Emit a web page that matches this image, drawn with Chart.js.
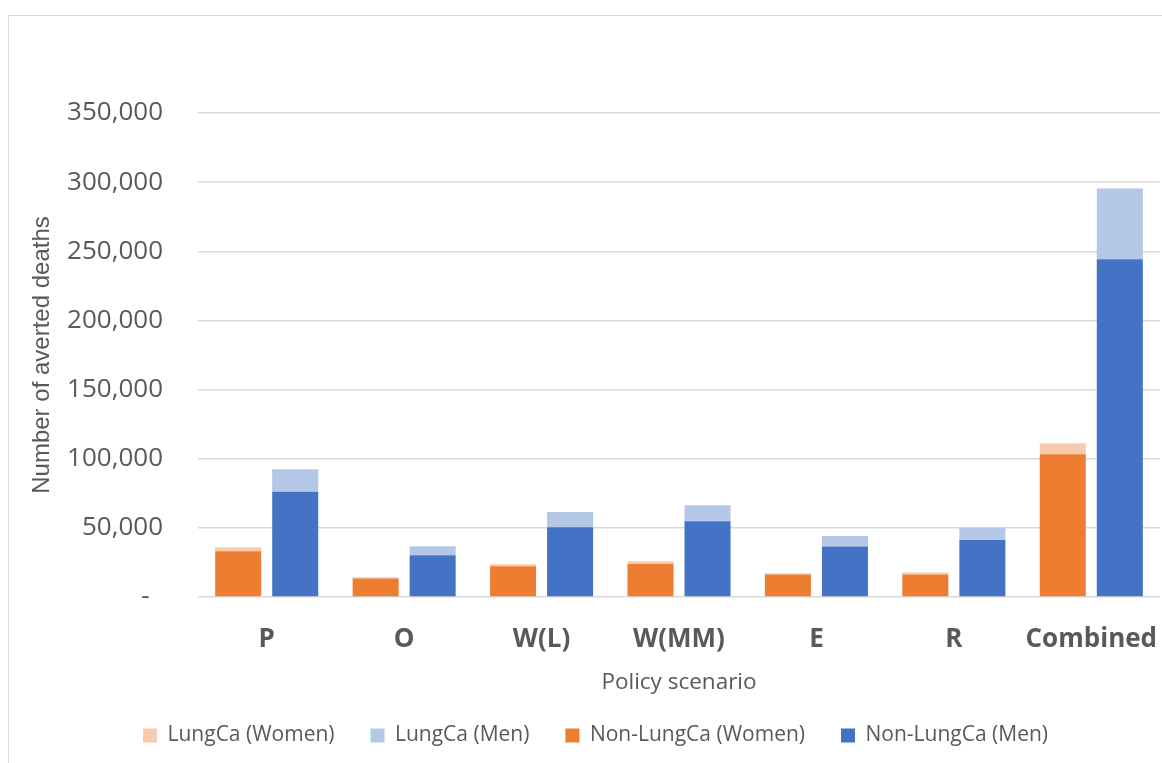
<!DOCTYPE html>
<html>
<head>
<meta charset="utf-8">
<script src="https://cdn.jsdelivr.net/npm/chart.js@4"></script>
<style>
  html, body { margin: 0; padding: 0; background: #fff; overflow: hidden; width: 1162px; height: 763px; }
  #frame { position: absolute; left: 8px; top: 15px; width: 1174px; height: 760px; border: 1px solid #d9d9d9; }
  #wrap { position: absolute; left: 0; top: 0; width: 1174px; height: 747px; }
</style>
</head>
<body>
<div id="frame"><div id="wrap"><canvas id="c" width="1174" height="747"></canvas></div></div>
<script>
// Policy scenarios on the x axis
const scenarios = ['P', 'O', 'W(L)', 'W(MM)', 'E', 'R', 'Combined'];

// Number of averted deaths per scenario
const nonLungCaWomen = [33100, 13300, 22200, 23900, 16200, 16200, 103200];
const lungCaWomen    = [2900, 1000, 1500, 2000, 1000, 1500, 8000];
const nonLungCaMen   = [76100, 30200, 50500, 54800, 36500, 41300, 244200];
const lungCaMen      = [16200, 6500, 10900, 11600, 7700, 8700, 51200];

// y axis range
const yMin = 0;
const yMax = 350000;
const yStep = 50000;

// legend order: LungCa (Women), LungCa (Men), Non-LungCa (Women), Non-LungCa (Men)
const legendOrder = [1, 3, 0, 2];

const textColor = '#595959';
const gridColor = '#d9d9d9';

new Chart(document.getElementById('c'), {
  type: 'bar',
  data: {
    labels: scenarios,
    datasets: [
      { label: 'Non-LungCa (Women)', data: nonLungCaWomen, stack: 'women', backgroundColor: '#ED7D31' },
      { label: 'LungCa (Women)',     data: lungCaWomen,    stack: 'women', backgroundColor: '#F8CBAD' },
      { label: 'Non-LungCa (Men)',   data: nonLungCaMen,   stack: 'men',   backgroundColor: '#4472C4' },
      { label: 'LungCa (Men)',       data: lungCaMen,      stack: 'men',   backgroundColor: '#B4C7E7' }
    ]
  },
  options: {
    responsive: false,
    animation: false,
    categoryPercentage: 0.83,
    barPercentage: 0.807,
    layout: { padding: { top: 97, right: 23, bottom: 7, left: 22 } },
    plugins: {
      tooltip: { enabled: false },
      legend: {
        position: 'bottom',
        labels: {
          boxWidth: 14,
          boxHeight: 14,
          padding: 36,
          color: textColor,
          font: { family: 'Open Sans', size: 21 },
          sort: (a, b) => legendOrder.indexOf(a.datasetIndex) - legendOrder.indexOf(b.datasetIndex)
        }
      }
    },
    scales: {
      x: {
        stacked: true,
        grid: { display: false },
        border: { display: false },
        ticks: {
          color: textColor,
          padding: 19,
          maxRotation: 0,
          minRotation: 0,
          autoSkip: false,
          font: { family: 'Open Sans', size: 26, weight: 'bold' }
        },
        title: {
          display: true,
          text: 'Policy scenario',
          color: textColor,
          font: { family: 'Open Sans', size: 22.5 },
          padding: { top: 0, bottom: -7.5 }
        },
        afterFit: s => { s.height = 92; }
      },
      y: {
        stacked: true,
        min: yMin,
        max: yMax,
        grid: { color: gridColor, lineWidth: 1.5, drawTicks: false },
        border: { display: false },
        ticks: {
          stepSize: yStep,
          color: textColor,
          padding: 35,
          font: { family: 'Open Sans', size: 26 },
          callback: v => v === 0 ? '-  ' : v.toLocaleString('en-US')
        },
        title: {
          display: true,
          text: 'Number of averted deaths',
          color: textColor,
          font: { family: 'Liberation Sans', size: 24 },
          padding: { top: -3, bottom: 0 }
        },
        afterFit: s => { s.width = 167; }
      }
    }
  }
});
</script>
</body>
</html>
